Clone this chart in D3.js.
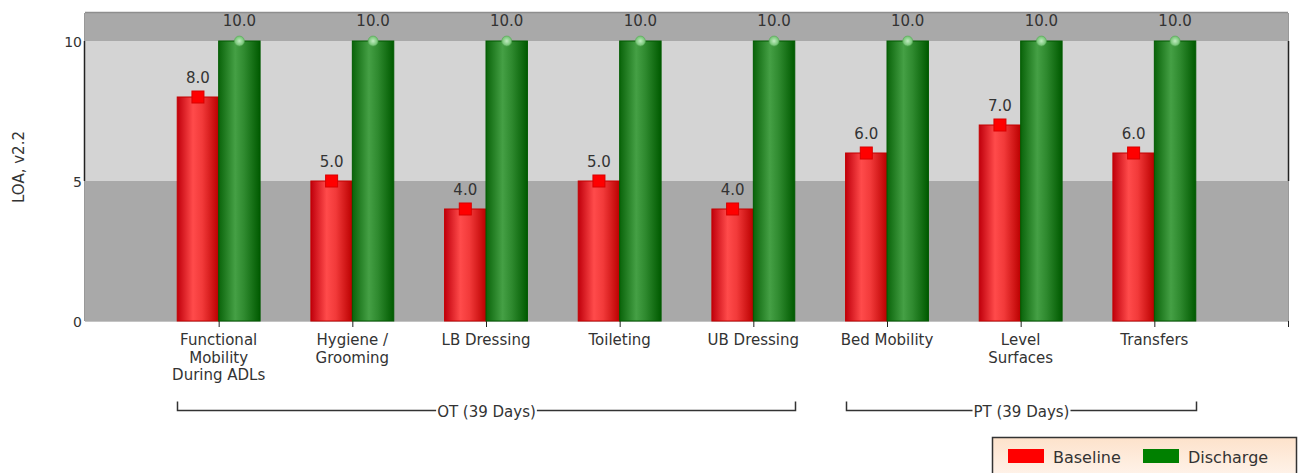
<!DOCTYPE html>
<html>
<head>
<meta charset="utf-8">
<script src="https://cdn.jsdelivr.net/npm/d3@7"></script>
<style>
  html, body { margin: 0; padding: 0; background: #fff; }
  svg { display: block; font-family: "DejaVu Sans", sans-serif; }
</style>
</head>
<body>
<svg id="chart" width="1299" height="473"></svg>
<script>
// categories and values
const categories = [
  ["Functional", "Mobility", "During ADLs"],
  ["Hygiene /", "Grooming"],
  ["LB Dressing"],
  ["Toileting"],
  ["UB Dressing"],
  ["Bed Mobility"],
  ["Level", "Surfaces"],
  ["Transfers"]
];
const baseline = [8, 5, 4, 5, 4, 6, 7, 6];
const discharge = [10, 10, 10, 10, 10, 10, 10, 10];
const yTicks = [0, 5, 10];
const bands = [
  { from: 0, to: 5, fill: "#a9a9a9" },
  { from: 5, to: 10, fill: "#d4d4d4" },
  { from: 10, to: 11, fill: "#a9a9a9" }
];
const groups = [
  { name: "OT (39 Days)", first: 0, last: 4 },
  { name: "PT (39 Days)", first: 5, last: 7 }
];
const seriesNames = ["Baseline", "Discharge"];

const svg = d3.select("#chart");
const plotLeft = 85, plotRight = 1288, plotTop = 13, plotBottom = 321;
const textColor = "#333";

const x = d3.scaleLinear().domain([-1, 8]).range([plotLeft, plotRight]);
const y = d3.scaleLinear().domain([0, 11]).range([plotBottom, plotTop]);
const step = x(1) - x(0);
const barW = step * 0.31;

const defs = svg.append("defs");
function hGrad(id, stops) {
  const g = defs.append("linearGradient").attr("id", id)
    .attr("x1", "0%").attr("x2", "100%").attr("y1", "0%").attr("y2", "0%");
  stops.forEach(s => g.append("stop").attr("offset", s[0]).attr("stop-color", s[1]));
}
hGrad("redGrad", [["0%", "#c0000c"], ["38%", "#ff4b4b"], ["60%", "#f23a3a"], ["100%", "#bb0000"]]);
hGrad("greenGrad", [["0%", "#0a640a"], ["40%", "#45a045"], ["62%", "#2f8a2f"], ["100%", "#005a00"]]);
const lg = defs.append("linearGradient").attr("id", "legendGrad")
  .attr("x1", "0%").attr("x2", "0%").attr("y1", "0%").attr("y2", "100%");
lg.append("stop").attr("offset", "0%").attr("stop-color", "#fde2cb");
lg.append("stop").attr("offset", "100%").attr("stop-color", "#fff6ef");
const rg = defs.append("radialGradient").attr("id", "dotGrad");
rg.append("stop").attr("offset", "0%").attr("stop-color", "#c2ebc2");
rg.append("stop").attr("offset", "100%").attr("stop-color", "#6cc06c");

// background bands
svg.append("g").selectAll("rect").data(bands).join("rect")
  .attr("x", plotLeft).attr("width", plotRight - plotLeft)
  .attr("y", d => y(d.to)).attr("height", d => y(d.from) - y(d.to))
  .attr("fill", d => d.fill);

// plot border
svg.append("line").attr("x1", plotLeft).attr("x2", plotRight)
  .attr("y1", plotTop - 0.5).attr("y2", plotTop - 0.5)
  .attr("stroke", "#8e8e8e").attr("stroke-width", 1.5);
svg.append("line").attr("x1", plotLeft).attr("x2", plotRight)
  .attr("y1", plotBottom + 0.5).attr("y2", plotBottom + 0.5)
  .attr("stroke", "#c4c4c4");
[plotLeft - 0.5, plotRight + 0.5].forEach(px => {
  svg.append("line").attr("x1", px).attr("x2", px).attr("y1", plotTop).attr("y2", plotBottom)
    .attr("stroke", "#999");
  svg.append("line").attr("x1", px).attr("x2", px).attr("y1", y(10)).attr("y2", y(5))
    .attr("stroke", "#222").attr("stroke-width", 1.5);
});

// y axis
const yAxis = svg.append("g").attr("transform", `translate(${plotLeft},0)`)
  .call(d3.axisLeft(y).tickValues(yTicks).tickSize(0).tickPadding(3));
yAxis.select(".domain").remove();
yAxis.selectAll("text").attr("font-size", 14).attr("fill", textColor)
  .attr("font-family", "DejaVu Sans").attr("dy", "0.36em");

svg.append("text")
  .attr("transform", `translate(24,${(plotTop + plotBottom) / 2}) rotate(-90)`)
  .attr("text-anchor", "middle").attr("font-size", 15).attr("fill", textColor)
  .text("LOA, v2.2");

// x axis ticks
const xAxis = svg.append("g").attr("transform", `translate(0,${plotBottom})`)
  .call(d3.axisBottom(x).tickValues(d3.range(0, 9)).tickSize(6).tickFormat(""));
xAxis.select(".domain").remove();
xAxis.selectAll("line").attr("stroke", "#222");

// category labels
categories.forEach((lines, i) => {
  const t = svg.append("text").attr("text-anchor", "middle")
    .attr("font-size", 15).attr("fill", textColor);
  lines.forEach((ln, j) => {
    t.append("tspan").attr("x", x(i)).attr("y", 345 + j * 17.5).text(ln);
  });
});

// bars
const idx = d3.range(categories.length);
svg.append("g").selectAll("rect").data(idx).join("rect")
  .attr("x", i => x(i) - barW).attr("width", barW)
  .attr("y", i => y(baseline[i])).attr("height", i => y(0) - y(baseline[i]))
  .attr("fill", "url(#redGrad)").attr("stroke", "#c40000").attr("stroke-width", 1);
svg.append("g").selectAll("rect").data(idx).join("rect")
  .attr("x", i => x(i)).attr("width", barW)
  .attr("y", i => y(discharge[i])).attr("height", i => y(0) - y(discharge[i]))
  .attr("fill", "url(#greenGrad)").attr("stroke", "#005a00").attr("stroke-width", 1);

// markers
svg.append("g").selectAll("rect").data(idx).join("rect")
  .attr("x", i => x(i) - barW / 2 - 6).attr("y", i => y(baseline[i]) - 6)
  .attr("width", 12).attr("height", 12)
  .attr("fill", "#ff0000").attr("stroke", "#d80000");
svg.append("g").selectAll("circle").data(idx).join("circle")
  .attr("cx", i => x(i) + barW / 2).attr("cy", i => y(discharge[i]))
  .attr("r", 5).attr("fill", "url(#dotGrad)").attr("stroke", "#5aa85a").attr("stroke-width", 0.6);

// value labels
svg.append("g").selectAll("text").data(idx).join("text")
  .attr("x", i => x(i) - barW / 2).attr("y", i => y(baseline[i]) - 14)
  .attr("text-anchor", "middle").attr("font-size", 15).attr("fill", textColor)
  .text(i => d3.format(".1f")(baseline[i]));
svg.append("g").selectAll("text").data(idx).join("text")
  .attr("x", i => x(i) + barW / 2).attr("y", i => y(discharge[i]) - 15)
  .attr("text-anchor", "middle").attr("font-size", 15).attr("fill", textColor)
  .text(i => d3.format(".1f")(discharge[i]));

// group brackets
const by = 410.5;
groups.forEach(g => {
  const x0 = Math.round(x(g.first) - barW) + 0.5, x1 = Math.round(x(g.last) + barW) + 0.5;
  const cx = (x0 + x1) / 2;
  const t = svg.append("text").attr("x", cx).attr("y", by + 6)
    .attr("text-anchor", "middle").attr("font-size", 15).attr("fill", textColor)
    .text(g.name);
  const half = t.node().getComputedTextLength() / 2 + 1;
  svg.append("path")
    .attr("d", `M${x0},${by - 9}V${by}H${cx - half}M${cx + half},${by}H${x1}V${by - 9}`)
    .attr("fill", "none").attr("stroke", "#333").attr("stroke-width", 1.5);
});

// legend
const legend = svg.append("g");
legend.append("rect").attr("x", 992.5).attr("y", 437.5).attr("width", 304).attr("height", 45)
  .attr("fill", "url(#legendGrad)").attr("stroke", "#333").attr("stroke-width", 1.5);
const swatchX = [1008, 1143];
const swatchColors = ["#ff0000", "#008000"];
seriesNames.forEach((name, i) => {
  legend.append("rect").attr("x", swatchX[i]).attr("y", 449).attr("width", 36).attr("height", 14)
    .attr("fill", swatchColors[i]);
  legend.append("text").attr("x", swatchX[i] + 45).attr("y", 463)
    .attr("font-size", 16).attr("fill", textColor).text(name);
});
</script>
</body>
</html>
